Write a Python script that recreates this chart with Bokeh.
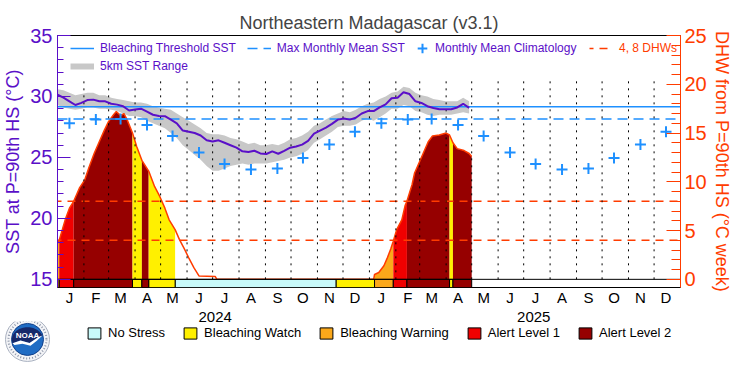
import numpy as np
import pandas as pd
from bokeh.plotting import figure
from bokeh.layouts import column, row
from bokeh.models import Range1d, LinearAxis, FixedTicker, Legend, LegendItem
from bokeh.embed import file_html
from bokeh.resources import INLINE

# ---------------- data ----------------
x_start = "2024-01-01"
x_end = "2026-01-01"

# weekly SST samples starting 2024-01-01
sst_start = "2024-01-01"
sst_values = [30.14, 29.9, 29.6, 29.3, 29.47, 29.7, 29.74, 29.6, 29.6, 29.4,
              29.33, 29.2, 28.85, 28.93, 29.0, 28.75, 28.5, 28.4, 28.38, 28.1,
              27.8, 27.2, 27.1, 27.0, 26.8, 26.4, 26.3, 26.4, 26.2, 26.0,
              25.8, 25.5, 25.45, 25.55, 25.33, 25.28, 25.5, 25.3, 25.54, 25.8,
              25.9, 26.05, 26.35, 26.95, 27.2, 27.45, 27.75, 28.1, 28.2, 28.1,
              28.25, 28.6, 28.8, 28.8, 29.1, 29.35, 29.85, 29.9, 30.35, 30.2,
              29.6, 29.47, 29.2, 29.06, 28.95, 28.95, 28.95, 29.1, 29.4, 29.06]
sst_range_low = [29.3, 29.1, 29.0, 28.9, 29.0, 29.1, 29.1, 29.0, 29.0, 28.9,
                 28.8, 28.6, 28.4, 28.4, 28.3, 28.0, 27.8, 27.6, 27.4, 27.0,
                 26.6, 26.0, 25.6, 25.2, 24.8, 24.3, 23.9, 23.9, 24.1, 24.3,
                 24.4, 24.5, 24.4, 24.5, 24.5, 24.5, 24.6, 24.7, 24.8, 25.0,
                 25.1, 25.3, 25.6, 26.2, 26.5, 26.8, 27.1, 27.5, 27.6, 27.6,
                 27.7, 28.0, 28.2, 28.0, 28.3, 28.6, 29.0, 29.0, 29.3, 29.2,
                 28.8, 28.7, 28.5, 28.4, 28.5, 28.5, 28.5, 28.6, 28.7, 28.6]
sst_range_high = [30.6, 30.5, 30.3, 30.1, 30.2, 30.3, 30.3, 30.1, 30.1, 29.9,
                  29.8, 29.7, 29.6, 29.5, 29.5, 29.4, 29.2, 29.1, 29.0, 28.9,
                  28.6, 28.3, 28.0, 27.7, 27.4, 27.0, 26.9, 26.9, 26.8, 26.6,
                  26.5, 26.3, 26.1, 26.2, 26.0, 26.0, 26.1, 26.0, 26.2, 26.5,
                  26.6, 26.8, 27.1, 27.6, 27.8, 28.1, 28.4, 28.6, 28.8, 28.7,
                  28.9, 29.2, 29.4, 29.5, 29.8, 30.0, 30.3, 30.4, 30.8, 30.7,
                  30.3, 30.1, 30.0, 29.8, 29.7, 29.6, 29.6, 29.6, 29.9, 29.6]

mmm_sst = 28.15
bleaching_threshold_sst = 29.15
dhw_alert_lines = [4, 8]

month_labels = ["J", "F", "M", "A", "M", "J", "J", "A", "S", "O", "N", "D"]
clim_values = [27.8, 28.1, 28.15, 27.65, 26.75, 25.4, 24.45, 24.0, 24.1, 24.95, 26.05, 27.1]

dhw_dates = ["2024-01-01", "2024-01-03", "2024-01-10", "2024-01-15", "2024-01-20",
             "2024-01-27", "2024-02-02", "2024-02-07", "2024-02-13", "2024-02-19",
             "2024-02-25", "2024-03-01", "2024-03-07", "2024-03-10", "2024-03-15",
             "2024-03-19", "2024-03-23", "2024-03-29", "2024-04-03", "2024-04-09",
             "2024-04-17", "2024-04-24", "2024-04-30", "2024-05-06", "2024-05-11",
             "2024-05-18", "2024-05-23", "2024-05-29", "2024-06-03", "2024-06-09",
             "2024-06-15", "2024-07-04", "2024-07-06",
             "2025-01-06", "2025-01-07", "2025-01-12", "2025-01-18", "2025-01-22",
             "2025-01-26", "2025-01-29", "2025-02-02", "2025-02-08", "2025-02-12",
             "2025-02-14", "2025-02-20", "2025-02-23", "2025-02-27", "2025-03-05",
             "2025-03-11", "2025-03-16", "2025-03-24", "2025-04-01", "2025-04-05",
             "2025-04-09", "2025-04-14", "2025-04-22", "2025-04-28", "2025-05-01"]
dhw_values = [3.7, 4.0, 6.1, 7.3, 8.0,
              9.4, 10.2, 11.5, 12.9, 14.1,
              15.3, 16.2, 16.9, 17.2, 16.8,
              17.0, 16.3, 15.0, 13.6, 12.2,
              11.1, 9.5, 8.5, 7.3, 6.1,
              5.1, 4.1, 3.1, 2.2, 1.2,
              0.35, 0.3, 0.0,
              0.0, 0.5, 0.7, 1.4, 2.2,
              3.1, 3.9, 5.1, 6.1, 7.6,
              8.0, 9.7, 10.9, 11.7, 12.9,
              14.1, 14.7, 14.8, 15.0, 14.8,
              14.0, 13.4, 13.2, 12.9, 12.6]

# 0 No Stress, 1 Watch, 2 Warning, 3 Alert 1, 4 Alert 2
status_start = ["2024-01-01", "2024-01-03", "2024-01-20", "2024-03-29", "2024-04-09",
                "2024-04-17", "2024-05-18", "2024-11-23", "2025-01-07", "2025-01-29",
                "2025-02-14", "2025-04-05", "2025-04-09"]
status_end = ["2024-01-03", "2024-01-20", "2024-03-29", "2024-04-09", "2024-04-17",
              "2024-05-18", "2024-11-23", "2025-01-07", "2025-01-29", "2025-02-14",
              "2025-04-05", "2025-04-09", "2025-05-01"]
status_level = [2, 3, 4, 1, 4, 1, 0, 1, 2, 3, 4, 1, 4]
status_names = ["No Stress", "Bleaching Watch", "Bleaching Warning", "Alert Level 1", "Alert Level 2"]

year_labels = ["2024", "2025"]
sst_ticks = [15, 20, 25, 30, 35]
sst_minor_ticks = list(range(15, 36))
dhw_ticks = [0, 5, 10, 15, 20, 25]
dhw_minor_ticks = list(range(0, 26))

# ---------------- styles ----------------
PURPLE = "#5a0fc8"
BLUE = "#1e90ff"
RED_O = "#ff3c00"
GREY = "#c8c8c8"
FONT = "Liberation Sans"
status_colors = ["#c8fafa", "#fff000", "#fba81a", "#f00000", "#960000"]
NAN = [np.nan]

BASE = pd.Timestamp(x_start)


def to_days(d):
    return np.asarray((pd.to_datetime(d) - BASE) / pd.Timedelta(days=1), dtype=float)


X1 = float(to_days([x_end])[0])
SST0, SST1 = 14.33, 35.0
DHW0, DHW1 = (SST0 - 15.0) * 1.25, 25.0

sst_x = to_days(pd.date_range(sst_start, periods=len(sst_values), freq="7D"))
dhw_x = to_days(dhw_dates)
dhw_y = np.asarray(dhw_values, dtype=float)
month_starts = to_days(pd.date_range(x_start, x_end, freq="MS")[:-1])
month_mid = [int(d) + 14 for d in month_starts]
month_tick_labels = month_labels * 2
clim_y = clim_values * 2
year_mid = []
for y in year_labels:
    a = to_days([f"{y}-01-01"])[0]
    b = to_days([f"{int(y) + 1}-01-01"])[0]
    year_mid.append(int((a + b) / 2))

xr = Range1d(0, X1)
p = figure(width=734, height=308, x_range=xr, y_range=Range1d(SST0, SST1),
           x_axis_type=None, y_axis_type=None, output_backend="svg", toolbar_location=None,
           min_border_left=49, min_border_right=47, min_border_top=35, min_border_bottom=18,
           title="Northeastern Madagascar (v3.1)")
p.extra_y_ranges = {"dhw": Range1d(DHW0, DHW1)}
p.outline_line_color = "black"
p.outline_line_width = 1
p.title.text_font = FONT
p.title.text_font_size = "18px"
p.title.text_font_style = "normal"
p.title.align = "center"
p.title.standoff = 5


def style_axis(ax, color, size):
    ax.axis_line_color = color
    ax.major_tick_line_color = color
    ax.minor_tick_line_color = color
    ax.major_label_text_color = color
    ax.axis_label_text_color = color
    ax.major_label_text_font = FONT
    ax.axis_label_text_font = FONT
    ax.major_label_text_font_size = size
    ax.axis_label_text_font_style = "normal"


def label_axis(ticks, labels):
    ax = LinearAxis(ticker=FixedTicker(ticks=ticks),
                    major_label_overrides={int(t): l for t, l in zip(ticks, labels)})
    style_axis(ax, "black", "15px")
    ax.axis_line_color = None
    ax.major_tick_line_color = None
    ax.minor_tick_line_color = None
    ax.major_tick_in = ax.major_tick_out = 0
    ax.major_label_standoff = 1
    return ax


yl = LinearAxis(ticker=FixedTicker(ticks=sst_ticks, minor_ticks=sst_minor_ticks),
                axis_label="SST at P=90th HS (°C)")
style_axis(yl, PURPLE, "20px")
yl.axis_label_text_font_size = "18px"
yl.major_tick_in, yl.major_tick_out, yl.minor_tick_in, yl.minor_tick_out = 13, 0, 6, 0
yl.major_label_standoff = 5
yl.axis_label_standoff = 4
p.add_layout(yl, "left")

yr = LinearAxis(y_range_name="dhw", ticker=FixedTicker(ticks=dhw_ticks, minor_ticks=dhw_minor_ticks),
                axis_label="DHW from P=90th HS (°C week)")
style_axis(yr, RED_O, "20px")
yr.axis_label_text_font_size = "18px"
yr.major_tick_in, yr.major_tick_out, yr.minor_tick_in, yr.minor_tick_out = 14, 0, 9, 0
yr.major_label_standoff = 4
yr.axis_label_standoff = 2
p.add_layout(yr, "right")

p.add_layout(label_axis(month_mid, month_tick_labels), "below")

# SST range band
p.varea(x=sst_x, y1=sst_range_low, y2=sst_range_high, fill_color=GREY)

# DHW fills by status
for s, e, lev in zip(status_start, status_end, status_level):
    if lev == 0:
        continue
    a, b = to_days([s])[0], to_days([e])[0]
    m = (dhw_x >= a) & (dhw_x <= b)
    if m.sum() >= 2:
        p.varea(x=dhw_x[m], y1=0, y2=dhw_y[m], y_range_name="dhw", fill_color=status_colors[lev])
p.line(dhw_x, dhw_y, y_range_name="dhw", line_color=RED_O, line_width=1.5)

# reference lines
r_thr = p.line([0, X1], [bleaching_threshold_sst] * 2, line_color=BLUE, line_width=1.5)
r_mmm = p.line([0, X1], [mmm_sst] * 2, line_color=BLUE, line_width=1.5, line_dash="10 6")
r_dhw = []
for v in dhw_alert_lines:
    r_dhw.append(p.line([0, X1], [v, v], y_range_name="dhw", line_color=RED_O,
                        line_width=1.5, line_dash="8 6", line_dash_offset=4))

# monthly dotted lines
p.segment(x0=month_starts[1:], y0=15.0, x1=month_starts[1:], y1=31.6,
          line_color="black", line_width=1, line_dash="2 5")

# SST and climatology
p.line(sst_x, sst_values, line_color=PURPLE, line_width=2)
r_clim = p.scatter(month_mid, clim_y, marker="cross", size=11, line_width=2, line_color=BLUE)
r_rng = p.line(x=NAN, y=NAN, line_color=GREY, line_width=6)

# status bar
sa = to_days(status_start)
se = to_days(status_end)
lv = np.asarray(status_level)
for lev in range(5):
    m = lv == lev
    p.quad(left=sa[m], right=se[m], bottom=SST0, top=15.0,
           fill_color=status_colors[lev], line_color="black", line_width=1)
p.line([0, X1], [15.0, 15.0], line_color="black", line_width=1)


def mk_legend(fig, items, loc, color, gw, gh, spacing, size="12px", standoff=6):
    lg = Legend(items=items, location=loc, orientation="horizontal",
                glyph_width=gw, glyph_height=gh, label_height=14, label_standoff=standoff,
                spacing=spacing, padding=0, margin=0, border_line_color=None,
                background_fill_alpha=0, label_text_font=FONT,
                label_text_font_size=size, label_text_color=color)
    fig.add_layout(lg)
    return lg


mk_legend(p, [LegendItem(label="Bleaching Threshold SST", renderers=[r_thr]),
              LegendItem(label="Max Monthly Mean SST", renderers=[r_mmm])],
          (13, 227), PURPLE, 24, 24, 11)
mk_legend(p, [LegendItem(label="Monthly Mean Climatology", renderers=[r_clim])],
          (353, 227), PURPLE, 24, 24, 9, standoff=1)
mk_legend(p, [LegendItem(label="4, 8 DHWs", renderers=[r_dhw[0]])], (532, 227), RED_O, 24, 24, 9)
mk_legend(p, [LegendItem(label="5km SST Range", renderers=[r_rng])], (13, 209), PURPLE, 24, 24, 9)

# ---------------- bottom strip: years + status legend ----------------
q = figure(width=679, height=59, x_range=xr, y_range=Range1d(0, 1),
           x_axis_type=None, y_axis_type=None, output_backend="svg", toolbar_location=None,
           min_border_left=0, min_border_right=41, min_border_top=11, min_border_bottom=0)
q.outline_line_color = None
yax = label_axis(year_mid, year_labels)
yax.major_label_standoff = 0
q.add_layout(yax, "above")
status_r = [q.quad(left=NAN, right=NAN, bottom=NAN, top=NAN, fill_color=c,
                   line_color="black", line_width=1) for c in status_colors]
mk_legend(q, [LegendItem(label=n, renderers=[r]) for n, r in zip(status_names, status_r)],
          (31, 27), "black", 16, 14, 17, "13px")

# ---------------- NOAA logo ----------------
lg = figure(width=55, height=59, x_range=Range1d(-27, 28), y_range=Range1d(-36, 23),
            x_axis_type=None, y_axis_type=None, output_backend="svg", toolbar_location=None,
            min_border=0)
lg.outline_line_color = None
lg.circle(x=[0], y=[0], radius=22, fill_color="#f3f4f7", line_color="#a8b0bf", line_width=1)
lg.circle(x=[0], y=[0], radius=19, fill_color=None, line_color="#8a93a6", line_width=2,
          line_dash="1 2")
lg.circle(x=[0], y=[0], radius=16, fill_color="#1f6cc4", line_color="#14418a", line_width=1)
ang = np.linspace(np.radians(18), np.radians(198), 40)
navy_x = list(15.6 * np.cos(ang)) + [-7, 2, 11]
navy_y = list(15.6 * np.sin(ang)) + [-1.5, -4.5, 3]
lg.patch(navy_x, navy_y, fill_color="#16296a", line_color=None)
lg.patch([-15, -7, 2, 11, 15, 9, 3, -5, -13], [-5, -1.5, -4.5, 3, 5, -2, -8, -5.5, -7],
         fill_color="white", line_color=None)
lg.text(x=[0], y=[5.5], text=["NOAA"], text_color="white", text_font_size="8px",
        text_font_style="bold", text_align="center", text_baseline="middle")

layout = column(p, row(lg, q))
open("out.html", "w").write(file_html(layout, INLINE))
